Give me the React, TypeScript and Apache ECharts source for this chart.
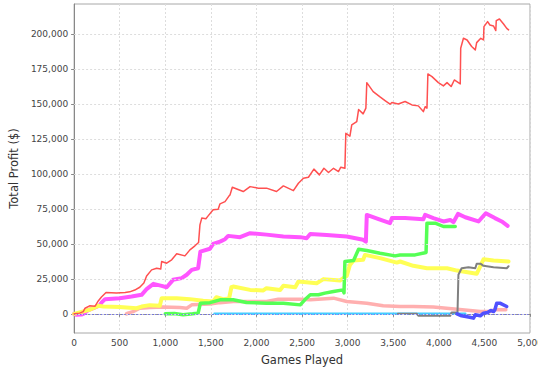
import React, { useEffect, useRef } from 'react';
import * as echarts from 'echarts';

const xTicks = [0, 500, 1000, 1500, 2000, 2500, 3000, 3500, 4000, 4500, 5000];
const yTicks = [0, 25000, 50000, 75000, 100000, 125000, 150000, 175000, 200000];

const redSeries = [[0,0],[60,500],[100,1600],[120,4000],[170,5700],[230,5500],[260,8800],[300,12000],[350,15200],[465,14800],[560,15200],[610,15700],[665,17000],[720,19000],[765,22000],[795,27000],[850,31400],[905,32600],[950,32000],[960,37400],[1015,36200],[1070,38600],[1125,42900],[1215,41400],[1270,45700],[1325,48600],[1365,51000],[1380,63600],[1400,68400],[1445,68000],[1470,70000],[1525,74300],[1580,74800],[1600,78600],[1655,80200],[1700,84300],[1710,85000],[1735,90500],[1855,87400],[1930,90900],[2020,89800],[2110,89800],[2220,87400],[2295,91400],[2405,88000],[2460,93300],[2515,96900],[2570,97600],[2630,103400],[2690,99300],[2740,104000],[2790,101000],[2845,104000],[2900,101700],[2925,104800],[2970,104000],[2980,129000],[3025,127000],[3045,135000],[3100,137400],[3120,146000],[3170,142900],[3200,147000],[3210,165200],[3280,158800],[3355,155000],[3410,152400],[3465,149800],[3485,151000],[3555,150000],[3630,151700],[3705,149300],[3775,148600],[3830,144500],[3850,148000],[3870,147000],[3880,171400],[3925,169500],[3995,165200],[4050,162900],[4090,165200],[4135,162400],[4170,167100],[4235,164300],[4240,189800],[4270,196900],[4310,195700],[4360,191000],[4400,188600],[4415,193800],[4460,196900],[4490,195700],[4495,205200],[4535,208800],[4560,206400],[4600,205700],[4625,202400],[4630,209500],[4665,210700],[4710,207100],[4745,204000],[4765,202900]];

const magentaSeries = [[0,0],[25,-700],[80,-500],[100,0],[150,2500],[210,4000],[280,6000],[300,8000],[340,10500],[500,11200],[630,12400],[740,13600],[795,17600],[870,21400],[960,20000],[1015,19000],[1085,24300],[1180,25500],[1235,27900],[1290,31400],[1360,32600],[1385,44500],[1490,46500],[1525,50000],[1600,51600],[1655,53300],[1690,55700],[1820,54800],[1930,57600],[2110,56600],[2295,55200],[2480,54800],[2550,54000],[2590,57100],[2770,56400],[2990,55200],[3170,52900],[3200,51600],[3210,70700],[3340,67600],[3465,64800],[3485,68400],[3630,68400],[3830,67600],[3850,70700],[3940,68400],[4050,66000],[4125,67100],[4160,65500],[4210,71400],[4290,69000],[4435,66000],[4515,71900],[4615,68400],[4690,66000],[4755,62900]];

const yellowSeries = [[0,0],[60,1000],[170,2900],[265,5700],[320,5200],[500,4800],[685,4000],[740,5200],[830,6200],[940,5700],[960,11200],[1125,11200],[1270,10500],[1415,9300],[1525,8800],[1560,11900],[1635,10500],[1700,11000],[1725,19000],[1745,19500],[1930,17100],[2075,16700],[2110,18300],[2260,17100],[2295,20000],[2425,19000],[2460,23100],[2660,21900],[2735,24800],[2915,23800],[2990,27100],[3025,35000],[3065,38100],[3170,38600],[3190,42100],[3355,39800],[3540,36600],[3575,37400],[3720,34300],[3870,32600],[4090,32600],[4200,30900],[4415,28600],[4440,32000],[4490,39000],[4600,38100],[4765,37400]];

const greenSeries = [[1000,0],[1100,300],[1195,-700],[1300,0],[1360,500],[1385,7600],[1490,8000],[1600,10000],[1745,10000],[1890,8100],[2110,7600],[2295,7600],[2480,6400],[2530,10000],[2590,13600],[2680,13600],[2750,14800],[2845,15900],[2950,17100],[2960,15000],[2970,37400],[3065,38100],[3120,46200],[3210,45200],[3355,43300],[3520,41400],[3575,42100],[3740,42100],[3860,43800],[3870,64800],[3960,64800],[4050,62400],[4180,62400]];

const pinkSeries = [[575,0],[590,500],[645,1600],[720,4000],[830,4500],[975,4800],[1160,4500],[1235,4000],[1290,6400],[1490,7100],[1600,8000],[1745,8800],[2110,8800],[2240,10500],[2480,10500],[2590,10000],[2845,11200],[2990,8800],[3210,7600],[3390,5700],[3575,5200],[3720,5200],[3940,4800],[4200,3300],[4455,1600],[4560,1600],[4615,2900],[4735,2900]];

const cyanSeries = [[1540,0],[4290,0]];

const graySeries = [[3550,0],[3760,0],[3775,-1400],[4125,-1400],[4140,1000],[4205,1000],[4215,27900],[4250,32600],[4325,33300],[4400,32600],[4415,35700],[4460,35700],[4490,34300],[4600,33300],[4745,32600],[4765,34000]];

const blueSeries = [[4200,0],[4250,-1400],[4340,-2400],[4380,-3100],[4400,-700],[4455,-1400],[4490,500],[4535,1000],[4570,2400],[4600,1600],[4615,2900],[4635,7600],[4670,7600],[4745,5200]];

const fmt = (v: number) => Math.round(v).toLocaleString('en-US');

export default function App() {
  const ref = useRef<HTMLDivElement>(null);
  useEffect(() => {
    document.body.style.margin = '0';
    document.body.style.overflow = 'hidden';
    const chart = echarts.init(ref.current!, null, { renderer: 'svg' });
    const line = (name: string, data: number[][], color: string, width: number, z: number, extra: any = {}) => ({
      name, type: 'line', data, showSymbol: false, symbol: 'none', z,
      lineStyle: { color, width, join: 'round', cap: 'round' }, itemStyle: { color }, ...extra,
    });
    chart.setOption({
      animation: false,
      backgroundColor: '#ffffff',
      textStyle: { fontFamily: 'DejaVu Sans' },
      grid: { left: 74, right: 30, top: 4, bottom: 41, show: true, borderColor: '#a8a8a8', borderWidth: 1, backgroundColor: '#ffffff' },
      xAxis: {
        type: 'value', min: 0, max: 5000, interval: 500,
        axisLine: { show: true, lineStyle: { color: '#888888' } },
        axisTick: { show: true, length: 3, lineStyle: { color: '#888888' } },
        axisLabel: { fontSize: 9, color: '#444444', margin: 5, formatter: fmt, alignMaxLabel: 'center' },
        splitLine: { show: true, lineStyle: { color: '#dddddd', type: [2, 2] } },
        name: 'Games Played', nameLocation: 'middle', nameGap: 21,
        nameTextStyle: { fontSize: 11.5, color: '#333333' },
      },
      yAxis: {
        type: 'value', min: -13700, max: 221400,
        axisLine: { show: true, lineStyle: { color: '#888888' } },
        axisTick: { show: true, length: 3, customValues: yTicks, lineStyle: { color: '#888888' } },
        axisLabel: { fontSize: 9, color: '#444444', margin: 6, customValues: yTicks, formatter: fmt },
        splitLine: { show: false },
        name: 'Total Profit ($)', nameLocation: 'middle', nameGap: 52,
        nameTextStyle: { fontSize: 11.5, color: '#333333' },
      },
      series: [
        line('grid', [], '#dddddd', 1, 1, {
          markLine: {
            silent: true, symbol: 'none', label: { show: false },
            lineStyle: { color: '#dddddd', type: [2, 2], width: 1 },
            data: yTicks.map((v) => ({ yAxis: v })),
          },
        }),
        line('Magenta', magentaSeries, '#ff55ff', 4, 3),
        line('Pink', pinkSeries, '#ffafaf', 3.5, 3),
        line('Yellow', yellowSeries, '#ffff55', 4, 3),
        line('Green', greenSeries, '#55ff55', 3.5, 4),
        line('Cyan', cyanSeries, '#44ccff', 2.5, 4, {
          markLine: {
            silent: true, symbol: 'none', label: { show: false },
            lineStyle: { color: '#7070ff', type: [1, 2], width: 1 },
            data: [{ yAxis: 0 }],
          },
        }),
        line('Gray', graySeries, '#808080', 2, 4),
        line('Blue', blueSeries, '#5050ff', 3.5, 5),
        line('Red', redSeries, '#ff5050', 1.5, 6),
      ],
    });
    return () => chart.dispose();
  }, []);
  return <div ref={ref} style={{ width: 560, height: 374 }} />;
}
